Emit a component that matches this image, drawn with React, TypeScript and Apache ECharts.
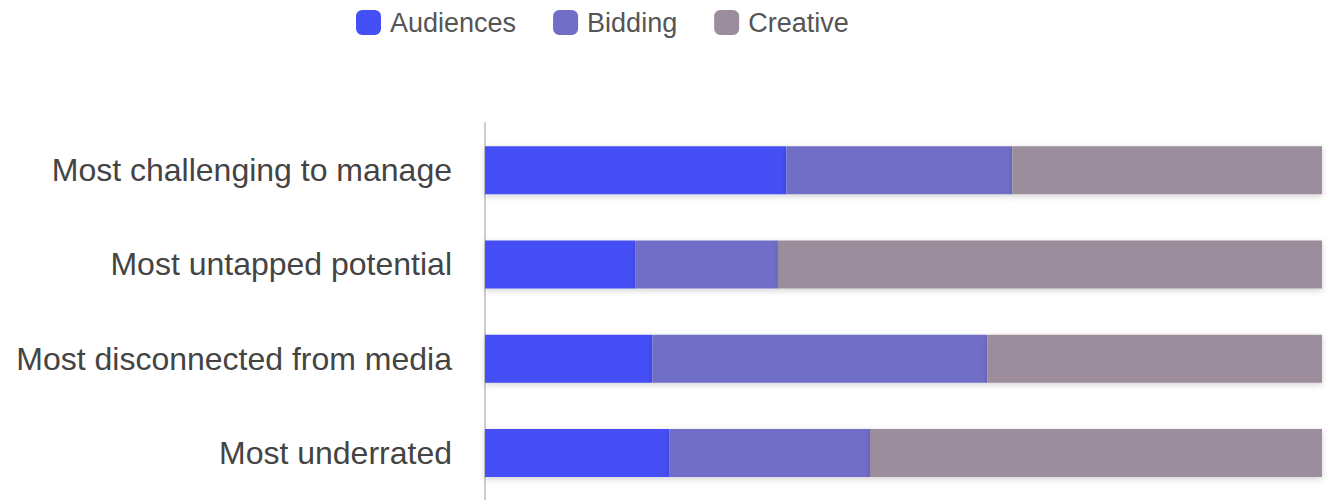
import React, { useEffect, useRef } from "react";
import * as echarts from "echarts";

const categories = [
  "Most challenging to manage",
  "Most untapped potential",
  "Most disconnected from media",
  "Most underrated",
];
const audiences = [36, 18, 20, 22];
const bidding = [27, 17, 40, 24];
const creative = [37, 65, 40, 54];

const seriesNames = ["Audiences", "Bidding", "Creative"];
const colors = ["#444FF5", "#716EC8", "#9B8D9B"];

export default function App() {
  const ref = useRef<HTMLDivElement>(null);
  useEffect(() => {
    document.body.style.margin = "0";
    const chart = echarts.init(ref.current!, null, { renderer: "svg" });
    const datas = [audiences, bidding, creative];
    chart.setOption({
      animation: false,
      legend: {
        left: 351,
        top: 4,
        itemWidth: 25,
        itemHeight: 25,
        itemGap: 37,
        icon: "roundRect",
        textStyle: {
          fontSize: 27,
          color: "#555",
          fontFamily: "Liberation Sans, Arial, sans-serif",
          padding: [0, 0, 0, 4],
        },
        data: seriesNames,
      },
      grid: { left: 485, right: 5, top: 123, bottom: -3, containLabel: false },
      xAxis: {
        type: "value",
        min: 0,
        max: 100,
        show: false,
      },
      yAxis: {
        type: "category",
        inverse: true,
        data: categories,
        axisLine: { show: true, lineStyle: { color: "#cccccc", width: 2 } },
        axisTick: { show: false },
        axisLabel: {
          fontSize: 32,
          color: "#444",
          margin: 33,
          fontFamily: "Liberation Sans, Arial, sans-serif",
        },
      },
      series: seriesNames.map((name, i) => ({
        name,
        type: "bar",
        stack: "total",
        barWidth: 48,
        data: datas[i],
        itemStyle: {
          color: colors[i],
          shadowColor: "rgba(0,0,0,0.18)",
          shadowBlur: 6,
          shadowOffsetY: 2,
        },
      })),
    });
    return () => chart.dispose();
  }, []);
  return <div ref={ref} style={{ width: 1327, height: 500 }} />;
}
